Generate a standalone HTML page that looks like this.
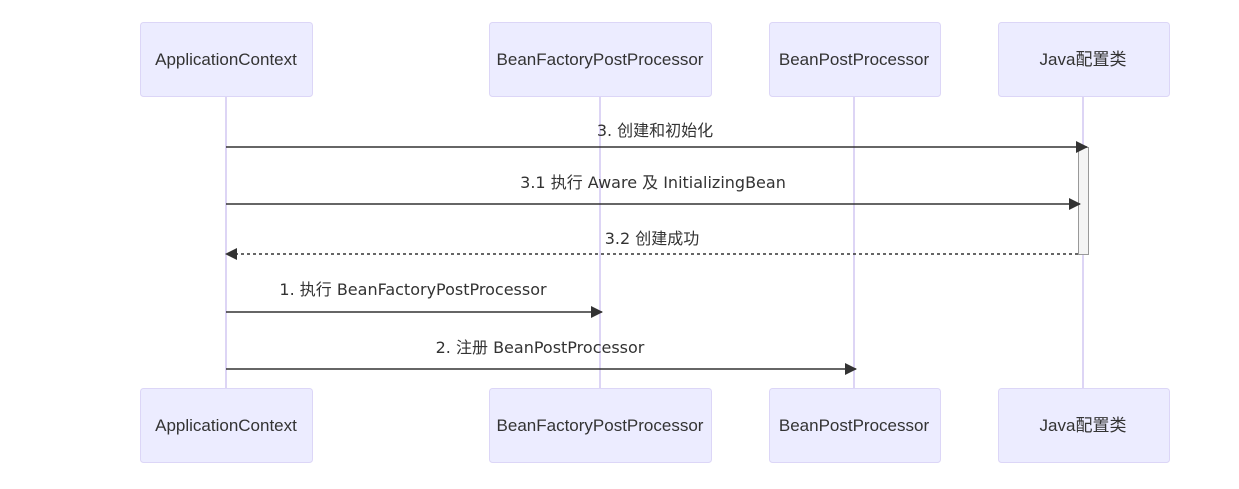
<!DOCTYPE html>
<html><head><meta charset="utf-8"><style>
body{margin:0;background:#fff;width:1239px;height:484px;overflow:hidden}
svg text{font-family:"Liberation Sans","Noto Sans CJK SC",sans-serif;}
svg .m text{font-family:"DejaVu Sans","Noto Sans CJK SC",sans-serif;}
</style></head><body>
<svg width="1239" height="484" viewBox="0 0 1239 484" xmlns="http://www.w3.org/2000/svg">
<defs><marker id="a" markerWidth="12" markerHeight="12" refX="11" refY="6" orient="auto" markerUnits="userSpaceOnUse"><path d="M0,0L12,6L0,12z" fill="#333"/></marker></defs>
<g stroke="#ddd5f5" stroke-width="2">
<line x1="226" y1="96" x2="226" y2="388"/><line x1="600" y1="96" x2="600" y2="388"/><line x1="854" y1="96" x2="854" y2="388"/><line x1="1083" y1="96" x2="1083" y2="388"/>
</g>
<g fill="#ececff" stroke="#dcd6f7" stroke-width="1">
<rect x="140.5" y="22.5" width="172" height="74" rx="3"/><rect x="489.5" y="22.5" width="222" height="74" rx="3"/><rect x="769.5" y="22.5" width="171" height="74" rx="3"/><rect x="998.5" y="22.5" width="171" height="74" rx="3"/>
<rect x="140.5" y="388.5" width="172" height="74" rx="3"/><rect x="489.5" y="388.5" width="222" height="74" rx="3"/><rect x="769.5" y="388.5" width="171" height="74" rx="3"/><rect x="998.5" y="388.5" width="171" height="74" rx="3"/>
</g>
<g font-size="17" fill="#333" text-anchor="middle">
<text x="226" y="65">ApplicationContext</text><text x="600" y="65">BeanFactoryPostProcessor</text><text x="854" y="65">BeanPostProcessor</text><text x="1083" y="65">Java配置类</text>
<text x="226" y="431">ApplicationContext</text><text x="600" y="431">BeanFactoryPostProcessor</text><text x="854" y="431">BeanPostProcessor</text><text x="1083" y="431">Java配置类</text>
</g>
<rect x="1078.5" y="147.5" width="10" height="107" fill="#f4f4f4" stroke="#999"/>
<g stroke="#333" stroke-width="1.5" fill="none">
<line x1="226" y1="147" x2="1087" y2="147" marker-end="url(#a)"/>
<line x1="226" y1="204" x2="1080" y2="204" marker-end="url(#a)"/>
<line x1="1078" y1="254" x2="226" y2="254" stroke-dasharray="3,3" marker-end="url(#a)"/>
<line x1="226" y1="312" x2="602" y2="312" marker-end="url(#a)"/>
<line x1="226" y1="369" x2="856" y2="369" marker-end="url(#a)"/>
</g>
<g class="m" font-size="16" fill="#333" text-anchor="middle">
<text x="655" y="136">3. 创建和初始化</text>
<text x="653" y="188">3.1 执行 Aware 及 InitializingBean</text>
<text x="652" y="244">3.2 创建成功</text>
<text x="413" y="295">1. 执行 BeanFactoryPostProcessor</text>
<text x="540" y="353">2. 注册 BeanPostProcessor</text>
</g>
</svg>
</body></html>
